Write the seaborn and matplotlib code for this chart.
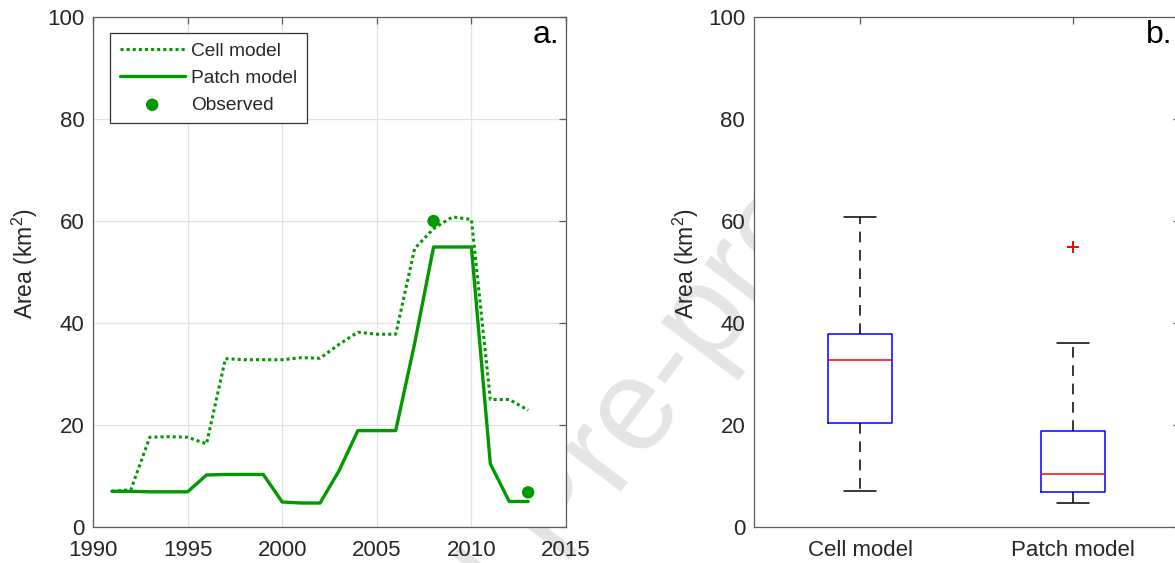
import matplotlib
matplotlib.use("Agg")
import matplotlib.pyplot as plt
import seaborn as sns
import pandas as pd

# data (km^2)
years = [1991, 1992, 1993, 1994, 1995, 1996, 1997, 1998, 1999, 2000, 2001, 2002,
         2003, 2004, 2005, 2006, 2007, 2008, 2009, 2010, 2011, 2012, 2013]
cell_model = [7.0, 7.3, 17.6, 17.7, 17.6, 16.3, 33.0, 32.8, 32.8, 32.8, 33.2, 33.1,
              35.8, 38.2, 37.8, 37.8, 54.6, 58.5, 60.8, 60.3, 25.0, 25.0, 22.9]
patch_model = [7.0, 7.0, 6.9, 6.9, 6.9, 10.2, 10.3, 10.3, 10.3, 4.9, 4.7, 4.7,
               11.0, 18.9, 18.9, 18.9, 36.0, 54.9, 54.9, 54.9, 12.4, 5.0, 5.0]
obs_years = [2008, 2013]
obs_area = [60.0, 6.8]

model_names = ["Cell model", "Patch model"]
green = "#009900"
axis_grey = "#5a5a5a"
text_col = "#262626"

sns.set_style("white")
plt.rcParams["font.family"] = ["Liberation Sans", "DejaVu Sans"]
plt.rcParams["mathtext.fontset"] = "custom"
plt.rcParams["mathtext.rm"] = "Liberation Sans"

fig = plt.figure(figsize=(11.75, 5.63), dpi=100)
ax1 = fig.add_axes([93 / 1175, 36 / 563, 473 / 1175, 510 / 563])
ax2 = fig.add_axes([753.5 / 1175, 36 / 563, 426 / 1175, 510 / 563])

# watermark behind the axes
fig.text(0.477, 0.084, "Journal Pre-proof", rotation=53, rotation_mode="anchor",
         ha="center", va="center", fontsize=94, color="#e4e4e4", zorder=-1)

# panel a
sns.lineplot(x=years, y=cell_model, ax=ax1, color=green, lw=2.2,
             linestyle=(0, (1, 1)), label="Cell model")
sns.lineplot(x=years, y=patch_model, ax=ax1, color=green, lw=2.4,
             label="Patch model")
sns.scatterplot(x=obs_years, y=obs_area, ax=ax1, color=green, s=80,
                edgecolor="none", label="Observed", zorder=5)

ax1.set_xlim(1990, 2015)
ax1.set_ylim(0, 100)
ax1.set_xticks([1990, 1995, 2000, 2005, 2010, 2015])
ax1.set_yticks([0, 20, 40, 60, 80, 100])
ax1.grid(True, color="#e2e2e2", lw=0.9)
ax1.set_ylabel("Area (km$^2$)", fontsize=16.5, color=text_col)
ax1.yaxis.set_label_coords(-0.112, 0.516)
ax1.set_xlabel("")
ax1.text(0.985, 0.949, "a.", transform=ax1.transAxes, ha="right",
         va="baseline", fontsize=23, color="black")
leg = ax1.legend(loc="upper left", bbox_to_anchor=(0.036, 0.969),
                 borderaxespad=0, fontsize=13.8, handlelength=3.4,
                 handletextpad=0.35, labelspacing=0.5, borderpad=0.5,
                 fancybox=False, framealpha=1, edgecolor="#333333")
leg.get_frame().set_linewidth(0.9)

# panel b
box_df = pd.DataFrame({
    "model": [model_names[0]] * len(cell_model) + [model_names[1]] * len(patch_model),
    "area": cell_model + patch_model,
})
sns.boxplot(data=box_df, x="model", y="area", ax=ax2, order=model_names,
            width=0.3, fill=False, color="blue", linewidth=1.1, whis=1.5,
            boxprops={"color": "blue"},
            medianprops={"color": "red"},
            whiskerprops={"color": "black", "linestyle": (0, (7, 5))},
            capprops={"color": "black"},
            flierprops={"marker": "+", "markeredgecolor": "red",
                        "markersize": 9, "markeredgewidth": 1.1})
ax2.set_xlim(-0.5, 1.5)
ax2.set_ylim(0, 100)
ax2.set_yticks([0, 20, 40, 60, 80, 100])
ax2.set_xlabel("")
ax2.set_ylabel("Area (km$^2$)", fontsize=16.5, color=text_col)
ax2.yaxis.set_label_coords(-0.123, 0.516)
ax2.text(0.984, 0.949, "b.", transform=ax2.transAxes, ha="right",
         va="baseline", fontsize=23, color="black")

for ax in (ax1, ax2):
    for sp in ax.spines.values():
        sp.set_visible(True)
        sp.set_color(axis_grey)
        sp.set_linewidth(0.9)
    ax.tick_params(direction="in", length=5, width=0.9, color=axis_grey,
                   top=True, right=True, labelsize=16, labelcolor=text_col)
    ax.tick_params(axis="x", pad=9)
    ax.tick_params(axis="y", pad=6)

fig.savefig("out.png", dpi=100)
